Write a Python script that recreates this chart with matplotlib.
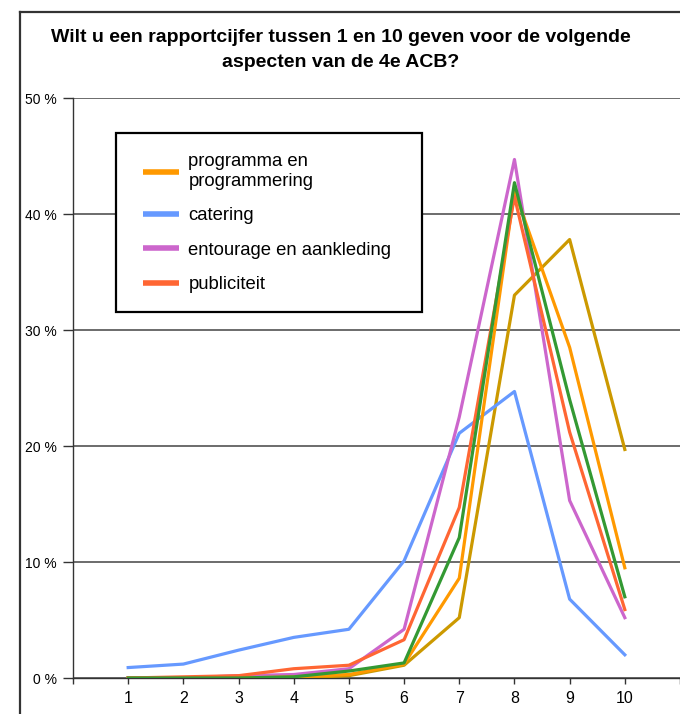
import matplotlib
matplotlib.use("Agg")
import matplotlib.pyplot as plt
from matplotlib.patches import Rectangle
from matplotlib.lines import Line2D

plt.rcParams['font.family'] = ['Liberation Sans', 'DejaVu Sans']

categories = [1, 2, 3, 4, 5, 6, 7, 8, 9, 10]
programma = [0.0, 0.0, 0.0, 0.1, 0.3, 1.2, 8.6, 42.0, 28.5, 9.5]
catering = [0.9, 1.2, 2.4, 3.5, 4.2, 10.1, 21.1, 24.7, 6.8, 2.0]
entourage = [0.0, 0.0, 0.2, 0.3, 0.8, 4.2, 22.5, 44.7, 15.3, 5.2]
publiciteit = [0.0, 0.1, 0.2, 0.8, 1.1, 3.3, 14.7, 41.5, 21.2, 5.9]
green_series = [0.0, 0.0, 0.0, 0.1, 0.6, 1.3, 12.1, 42.7, 24.0, 7.0]
gold_series = [0.0, 0.0, 0.0, 0.0, 0.2, 1.1, 5.2, 33.0, 37.8, 19.7]

series_names = ["programma en\nprogrammering", "catering", "entourage en aankleding", "publiciteit"]
y_ticks = [0, 10, 20, 30, 40, 50]
y_tick_labels = ["0 %", "10 %", "20 %", "30 %", "40 %", "50 %"]
title = "Wilt u een rapportcijfer tussen 1 en 10 geven voor de volgende\naspecten van de 4e ACB?"

W, H = 680, 714
fig = plt.figure(figsize=(6.8, 7.14), dpi=100)
fig.patch.set_facecolor("white")

def fx(px):
    return px / W

def fy(py):
    return 1 - py / H

ax = fig.add_axes([fx(73), fy(678), fx(680) - fx(73), fy(98) - fy(678)])
ax.set_xlim(0, 11)
ax.set_ylim(0, 50)

lw = 2.3
ax.plot(categories, gold_series, color="#CC9900", lw=lw, zorder=3)
ax.plot(categories, catering, color="#6699FF", lw=lw, zorder=3)
ax.plot(categories, green_series, color="#339933", lw=lw, zorder=4)
ax.plot(categories, programma, color="#FF9900", lw=lw, zorder=3.5)
ax.plot(categories, publiciteit, color="#FF6633", lw=lw, zorder=3.6)
ax.plot(categories, entourage, color="#CC66CC", lw=lw, zorder=3.4)

ax.set_yticks(y_ticks)
ax.set_yticklabels(y_tick_labels, fontsize=10)
xt = [0] + categories + [11]
ax.set_xticks(xt)
ax.set_xticklabels([""] + [str(c) for c in categories] + [""], fontsize=11.5)
ax.tick_params(axis="y", length=7.5, width=1.0, color="#333333", pad=4, labelcolor="black")
ax.tick_params(axis="x", length=4.5, width=1.0, color="#333333", pad=5, labelcolor="black")
ax.grid(axis="y", color="#444444", lw=1.1, zorder=1)
ax.set_axisbelow(True)
for s in ["top", "right"]:
    ax.spines[s].set_visible(False)
ax.spines["left"].set_color("#333333")
ax.spines["bottom"].set_color("#333333")
ax.spines["left"].set_linewidth(1.0)
ax.spines["bottom"].set_linewidth(1.0)

# title
fig.text(fx(341), fy(29), title, ha="center", va="top", fontsize=14,
         fontweight="bold", linespacing=1.6)

# legend frame
rect = Rectangle((fx(116), fy(312)), fx(422) - fx(116), fy(133) - fy(312),
                 transform=fig.transFigure, facecolor="white", edgecolor="black",
                 lw=1.6, zorder=5)
ax.add_patch(rect)
rect.set_clip_on(False)

handles = [Line2D([], [], color=c, lw=4, solid_capstyle="butt")
           for c in ["#FF9900", "#6699FF", "#CC66CC", "#FF6633"]]
leg = ax.legend(handles, series_names, loc="upper left",
                bbox_to_anchor=(fx(134), fy(144)), bbox_transform=fig.transFigure,
                frameon=False, fontsize=13.3, borderpad=0, handlelength=1.95,
                handletextpad=0.5, labelspacing=0.95)
leg.set_zorder(6)

# outer frame of the picture
fig.add_artist(Line2D([fx(20), fx(20)], [fy(12), 0], transform=fig.transFigure,
                      color="#333333", lw=1.6))
fig.add_artist(Line2D([fx(20), 1], [fy(12), fy(12)], transform=fig.transFigure,
                      color="#333333", lw=1.6))

fig.savefig("out.png", dpi=100)
